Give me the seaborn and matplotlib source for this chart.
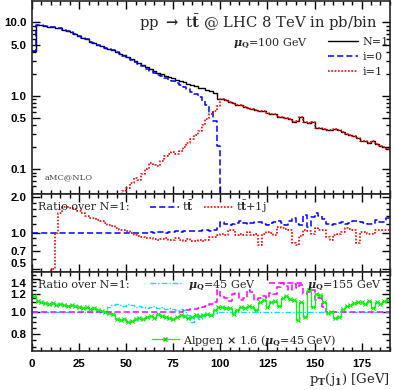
import numpy as np
import pandas as pd
import matplotlib
matplotlib.use("Agg")
import matplotlib.pyplot as plt
import seaborn as sns
from matplotlib.lines import Line2D
from matplotlib.ticker import FixedLocator, FixedFormatter, NullFormatter, MultipleLocator

# ---------------- data (2 GeV bins, 0..190 GeV) ----------------
bin_width = 2
pt_max = 190

# top panel: pb/bin
n1 = [4.1, 9.2, 9.1, 9.0, 8.8, 8.7, 8.5, 8.3, 8.0, 7.7,
      7.4, 7.0, 6.6, 6.2, 5.9, 5.5, 5.2, 5.0, 4.8, 4.55,
      4.35, 4.15, 3.95, 3.75, 3.55, 3.35, 3.15, 2.95, 2.78, 2.6,
      2.45, 2.3, 2.18, 2.06, 1.97, 1.88, 1.8, 1.74, 1.67, 1.6,
      1.53, 1.46, 1.40, 1.35, 1.29, 1.26, 1.22, 1.17, 1.08, 0.92,
      0.90, 0.87, 0.83, 0.80, 0.76, 0.74, 0.70, 0.69, 0.66, 0.65,
      0.63, 0.62, 0.59, 0.56, 0.56, 0.52, 0.51, 0.50, 0.48, 0.44,
      0.46, 0.52, 0.44, 0.42, 0.44, 0.37, 0.36, 0.355, 0.34, 0.34,
      0.35, 0.34, 0.32, 0.30, 0.29, 0.28, 0.27, 0.24, 0.24, 0.23,
      0.24, 0.22, 0.21, 0.20, 0.19]
i0 = [4.1, 9.2, 9.1, 9.0, 8.8, 8.7, 8.5, 8.3, 8.0, 7.7,
      7.4, 7.0, 6.6, 6.2, 5.9, 5.5, 5.2, 5.0, 4.8, 4.55,
      4.35, 4.15, 3.95, 3.75, 3.5, 3.3, 3.09, 2.87, 2.71, 2.52,
      2.35, 2.18, 2.06, 1.95, 1.84, 1.73, 1.64, 1.57, 1.51, 1.42,
      1.33, 1.23, 1.14, 1.06, 0.96, 0.86, 0.74, 0.61, 0.46, 0.21,
      0, 0, 0, 0, 0, 0, 0, 0, 0, 0,
      0, 0, 0, 0, 0, 0, 0, 0, 0, 0,
      0, 0, 0, 0, 0, 0, 0, 0, 0, 0,
      0, 0, 0, 0, 0, 0, 0, 0, 0, 0,
      0, 0, 0, 0, 0]
i1 = [0, 0, 0, 0, 0, 0, 0, 0, 0, 0,
      0, 0, 0, 0, 0, 0, 0, 0, 0, 0,
      0, 0, 0, 0, 0.05, 0.055, 0.065, 0.075, 0.072, 0.085,
      0.10, 0.12, 0.115, 0.11, 0.13, 0.15, 0.16, 0.17, 0.16, 0.18,
      0.20, 0.23, 0.26, 0.29, 0.33, 0.40, 0.48, 0.56, 0.62, 0.72,
      0.90, 0.87, 0.83, 0.80, 0.76, 0.74, 0.70, 0.69, 0.66, 0.65,
      0.63, 0.62, 0.59, 0.56, 0.56, 0.52, 0.51, 0.50, 0.48, 0.44,
      0.46, 0.52, 0.44, 0.42, 0.44, 0.37, 0.36, 0.355, 0.34, 0.34,
      0.35, 0.34, 0.32, 0.30, 0.29, 0.28, 0.27, 0.24, 0.24, 0.23,
      0.24, 0.22, 0.21, 0.20, 0.19]

# middle panel: ratio over N=1
r_tt = [1.00, 1.00, 1.00, 1.00, 1.00, 1.01, 1.00, 1.00, 1.00, 1.00,
        1.00, 1.00, 1.00, 1.00, 1.00, 1.00, 1.00, 1.00, 1.00, 1.00,
        1.00, 1.01, 1.00, 1.01, 1.00, 1.01, 1.01, 1.00, 1.01, 1.01,
        1.01, 1.02, 1.01, 1.02, 1.02, 1.01, 1.02, 1.02, 1.03, 1.02,
        1.03, 1.03, 1.04, 1.03, 1.04, 1.05, 1.05, 1.04, 1.06, 1.10,
        1.24, 1.18, 1.17, 1.20, 1.22, 1.27, 1.22, 1.20, 1.21, 1.24,
        1.24, 1.18, 1.16, 1.22, 1.24, 1.27, 1.22, 1.16, 1.27, 1.33,
        1.20, 1.16, 1.42, 1.13, 1.37, 1.47, 1.40, 1.30, 1.18, 1.16,
        1.20, 1.22, 1.24, 1.20, 1.22, 1.26, 1.26, 1.24, 1.22, 1.18,
        1.20, 1.28, 1.24, 1.24, 1.35]
r_ttj = [0, 0, 0, 0, 0, 0.50, 1.00, 1.47, 1.67, 1.67,
         1.62, 1.58, 1.52, 1.46, 1.40, 1.35, 1.33, 1.28, 1.26, 1.22,
         1.17, 1.14, 1.10, 1.07, 1.05, 1.04, 1.00, 0.96, 0.94, 0.92,
         0.91, 0.90, 0.89, 0.88, 0.89, 0.90, 0.88, 0.88, 0.90, 0.88,
         0.86, 0.89, 0.86, 0.85, 0.87, 0.85, 0.88, 0.92, 0.93, 0.97,
         0.98, 0.97, 1.05, 1.05, 0.96, 0.99, 0.97, 1.02, 0.96, 0.99,
         0.80, 0.98, 1.02, 1.00, 0.96, 1.13, 1.10, 1.08, 1.05, 0.82,
         0.80, 0.95, 1.05, 1.03, 0.99, 1.10, 1.06, 1.05, 0.92, 0.87,
         0.96, 0.99, 1.02, 1.10, 1.08, 1.06, 0.82, 1.02, 1.02, 0.98,
         0.99, 1.05, 1.06, 1.05, 1.05]

# bottom panel: ratio over N=1
r_mu45 = [1.00, 1.00, 1.00, 1.00, 1.00, 1.00, 1.00, 1.00, 1.00, 1.00,
          1.00, 1.00, 1.00, 1.00, 1.00, 1.00, 1.00, 1.00, 1.00, 1.00,
          1.05, 1.07, 1.08, 1.07, 1.06, 1.08, 1.07, 1.05, 1.06, 1.05,
          1.04, 1.05, 1.06, 1.04, 1.05, 1.03, 1.04, 1.03, 1.02, 1.03,
          1.02, 0.97, 0.90, 0.95, 0.93, 0.96, 0.98, 0.97, 0.99, 1.00,
          1.00, 1.00, 1.00, 1.00, 1.00, 1.00, 1.00, 1.00, 1.00, 1.00,
          1.00, 1.00, 1.00, 1.00, 1.00, 1.00, 1.00, 1.00, 1.00, 1.00,
          1.00, 1.00, 1.00, 1.00, 1.00, 1.00, 1.00, 1.00, 1.00, 1.00,
          1.00, 1.00, 1.00, 1.00, 1.00, 1.00, 1.00, 1.00, 1.00, 1.00,
          1.00, 1.00, 1.00, 1.00, 1.00]
r_mu155 = [1.00, 1.00, 1.00, 1.00, 1.00, 1.00, 1.00, 1.00, 1.00, 1.00,
           1.00, 1.00, 1.00, 1.00, 1.00, 1.00, 1.00, 1.00, 1.00, 1.00,
           1.00, 1.00, 1.00, 1.00, 1.00, 1.00, 1.00, 1.00, 1.00, 1.00,
           1.00, 1.00, 1.00, 1.00, 1.00, 1.00, 1.00, 1.00, 1.00, 1.00,
           1.02, 1.02, 1.03, 1.03, 1.04, 1.05, 1.06, 1.08, 1.10, 1.25,
           1.18, 1.15, 1.12, 1.20, 1.21, 1.13, 1.15, 1.25, 1.22, 1.13,
           1.15, 1.18, 1.15, 1.21, 1.20, 1.29, 1.34, 1.30, 1.25, 1.33,
           1.28, 1.31, 1.20, 1.22, 1.25, 1.13, 1.15, 1.05, 1.00, 1.00,
           1.00, 1.00, 1.00, 1.00, 1.00, 1.00, 1.00, 1.00, 1.00, 1.00,
           1.00, 1.00, 1.00, 1.00, 1.00]
r_alpgen = [1.17, 1.12, 1.10, 1.09, 1.08, 1.09, 1.07, 1.08, 1.07, 1.06,
            1.07, 1.06, 1.05, 1.04, 1.05, 1.03, 1.04, 1.02, 1.01, 1.00,
            0.99, 0.98, 0.93, 0.92, 0.93, 0.90, 0.91, 0.93, 0.94, 0.93,
            0.95, 0.96, 0.94, 0.98, 0.96, 0.95, 0.94, 0.93, 0.95, 0.97,
            0.96, 0.94, 0.95, 0.97, 0.96, 0.97, 0.98, 0.97, 1.02, 1.05,
            1.05, 1.04, 1.04, 0.98, 1.02, 1.05, 1.04, 1.06, 1.05, 1.02,
            1.10, 1.13, 1.05, 1.11, 1.12, 1.06, 1.15, 1.17, 1.14, 1.13,
            0.92, 1.10, 0.95, 1.25, 1.05, 1.20, 1.19, 1.10, 0.99, 1.00,
            0.94, 0.95, 1.03, 1.06, 1.07, 1.09, 1.10, 1.11, 1.08, 1.12,
            1.04, 1.10, 1.08, 1.12, 1.13]

top_ticks = [0.1, 0.5, 1.0, 5.0, 10.0]
top_labels = ["0.1", "0.5", "1.0", "5.0", "10.0"]
mid_ticks = [0.5, 0.7, 1.0, 2.0]
mid_labels = ["0.5", "0.7", "1.0", "2.0"]
bot_ticks = [0.8, 1.0, 1.2, 1.4]
bot_labels = ["0.8", "1.0", "1.2", "1.4"]

# ---------------- style ----------------
sns.set_style("ticks")
plt.rcParams["font.family"] = ["Liberation Sans", "DejaVu Sans"]
plt.rcParams["font.weight"] = "bold"
plt.rcParams["mathtext.fontset"] = "dejavuserif"
SERIF = ["DejaVu Serif"]

edges = np.arange(0, pt_max + bin_width, bin_width)
centers = edges[:-1] + bin_width / 2


def step(ax, vals, color, ls, lw=1.0):
    df = pd.DataFrame({"pt": edges, "v": list(vals) + [vals[-1]]})
    sns.lineplot(data=df, x="pt", y="v", ax=ax, drawstyle="steps-post",
                 estimator=None, sort=False, color=color, linestyle=ls,
                 linewidth=lw, legend=False)


fig = plt.figure(figsize=(3.95, 3.9), dpi=100)
ax1 = fig.add_axes([0.081, 0.5026, 0.906, 0.4948])
ax2 = fig.add_axes([0.081, 0.3026, 0.906, 0.2000])
ax3 = fig.add_axes([0.081, 0.1000, 0.906, 0.2026])

BLUE = "#0000ff"
RED = "#ff0000"
CYAN = "#00e5ff"
MAGENTA = "#ff00ff"
GREEN = "#00ff00"
DASH = (0, (4, 2))
DOT = (0, (1, 1))
DASHDOT = (0, (4, 1.5, 1, 1.5))

# top
step(ax1, n1, "black", "-", 1.0)
step(ax1, i0, BLUE, DASH, 1.1)
step(ax1, i1, RED, DOT, 1.2)
# middle
step(ax2, r_tt, BLUE, DASH, 1.1)
step(ax2, r_ttj, RED, DOT, 1.2)
# bottom
step(ax3, r_mu45, CYAN, DASHDOT, 1.0)
step(ax3, r_mu155, MAGENTA, DASH, 1.1)
step(ax3, r_alpgen, GREEN, "-", 0.9)
sns.scatterplot(x=centers, y=r_alpgen, ax=ax3, marker="x", color="#00dd00",
                s=9, linewidth=0.7, legend=False)

# axes formatting
for ax in (ax1, ax2, ax3):
    ax.set_xlim(0, pt_max)
    ax.set_xlabel("")
    ax.set_ylabel("")
    ax.xaxis.set_major_locator(MultipleLocator(25))
    ax.xaxis.set_minor_locator(MultipleLocator(5))
    ax.tick_params(which="both", direction="in", top=True, right=True,
                   width=1.0, colors="black", labelsize=8.2, pad=4)
    ax.tick_params(which="major", length=6)
    ax.tick_params(which="minor", length=3)
    for s in ax.spines.values():
        s.set_linewidth(1.2)

ax1.set_yscale("log")
ax1.set_ylim(0.046, 19.6)
ax1.yaxis.set_major_locator(FixedLocator(top_ticks))
ax1.yaxis.set_major_formatter(FixedFormatter(top_labels))
ax1.yaxis.set_minor_locator(FixedLocator(
    [0.06, 0.07, 0.08, 0.09, 0.2, 0.3, 0.4, 0.6, 0.7, 0.8, 0.9,
     2, 3, 4, 6, 7, 8, 9]))
ax1.yaxis.set_minor_formatter(NullFormatter())

ax2.set_yscale("log")
ax2.set_ylim(0.47, 2.13)
ax2.yaxis.set_major_locator(FixedLocator(mid_ticks))
ax2.yaxis.set_major_formatter(FixedFormatter(mid_labels))
ax2.yaxis.set_minor_locator(FixedLocator([0.6, 0.8, 0.9, 1.2, 1.4, 1.6, 1.8]))
ax2.yaxis.set_minor_formatter(NullFormatter())

ax3.set_yscale("log")
ax3.set_ylim(0.67, 1.5)
ax3.yaxis.set_major_locator(FixedLocator(bot_ticks))
ax3.yaxis.set_major_formatter(FixedFormatter(bot_labels))
ax3.yaxis.set_minor_locator(FixedLocator([0.7, 0.75, 0.85, 0.9, 0.95, 1.05, 1.1,
                                          1.15, 1.25, 1.3, 1.35, 1.45]))
ax3.yaxis.set_minor_formatter(NullFormatter())

ax1.tick_params(labelbottom=False)
ax2.tick_params(labelbottom=False)
ax3.tick_params(axis="x", pad=6)
# keep the stacked "0.5" / "1.4" labels apart
ax2.get_yticklabels()[0].set_va("bottom")
ax3.get_yticklabels()[-1].set_va("top")

# texts: top panel
ax1.text(0.964, 0.890, r"pp $\rightarrow$ t$\bar{\rm t}$ @ LHC 8 TeV in pb/bin",
         transform=ax1.transAxes, ha="right", va="center", fontsize=10.6,
         family=SERIF, weight="normal")
ax1.text(0.771, 0.782, r"$\mu_{\rm Q}$=100 GeV", transform=ax1.transAxes,
         ha="right", va="center", fontsize=8, family=SERIF, weight="normal")
ax1.text(0.036, 0.085, "aMC@NLO", transform=ax1.transAxes, ha="left",
         va="center", fontsize=6, family=SERIF, weight="normal", color="#444444")

leg_font = {"family": SERIF, "size": 8, "weight": "normal"}
h_top = [Line2D([], [], color="black", lw=1.0),
         Line2D([], [], color=BLUE, ls=DASH, lw=1.1),
         Line2D([], [], color=RED, ls=DOT, lw=1.2)]
ax1.legend(h_top, ["N=1", "i=0", "i=1"], loc="upper right",
           bbox_to_anchor=(0.997, 0.812), frameon=False, prop=leg_font,
           handlelength=2.7, handletextpad=0.4, labelspacing=0.42,
           borderaxespad=0, borderpad=0)

# middle panel
ax2.text(0.017, 0.835, "Ratio over N=1:", transform=ax2.transAxes, ha="left",
         va="center", fontsize=8, family=SERIF, weight="normal")
h_mid = [Line2D([], [], color=BLUE, ls=DASH, lw=1.1),
         Line2D([], [], color=RED, ls=DOT, lw=1.2)]
ax2.legend(h_mid, [r"t$\bar{\rm t}$", r"t$\bar{\rm t}$+1j"], loc="center left",
           bbox_to_anchor=(0.33, 0.835), ncol=2, frameon=False, prop=leg_font,
           handlelength=2.6, handletextpad=0.3, columnspacing=0.9,
           borderaxespad=0, borderpad=0)

# bottom panel
ax3.text(0.017, 0.835, "Ratio over N=1:", transform=ax3.transAxes, ha="left",
         va="center", fontsize=8, family=SERIF, weight="normal")
h_bot = [Line2D([], [], color=CYAN, ls=DASHDOT, lw=1.0),
         Line2D([], [], color=MAGENTA, ls=DASH, lw=1.1)]
leg3 = ax3.legend(h_bot, [r"$\mu_{\rm Q}$=45 GeV", r"$\mu_{\rm Q}$=155 GeV"],
                  loc="center left", bbox_to_anchor=(0.33, 0.835), ncol=2,
                  frameon=False, prop=leg_font, handlelength=3.0,
                  handletextpad=0.4, columnspacing=1.2, borderaxespad=0,
                  borderpad=0)
ax3.add_artist(leg3)
h_alp = [Line2D([], [], color=GREEN, lw=0.9, marker="x", markersize=3,
                markeredgecolor="#00dd00")]
ax3.legend(h_alp, [r"Alpgen $\times$ 1.6 ($\mu_{\rm Q}$=45 GeV)"],
           loc="center left", bbox_to_anchor=(0.335, 0.13), frameon=False,
           prop=leg_font, handlelength=2.4, handletextpad=0.4,
           borderaxespad=0, borderpad=0)

fig.text(0.987, 0.026, r"p$_{\rm T}$(j$_1$) [GeV]", ha="right", va="center",
         fontsize=9.5, family=SERIF, weight="normal")

fig.savefig("out.png", dpi=100)
